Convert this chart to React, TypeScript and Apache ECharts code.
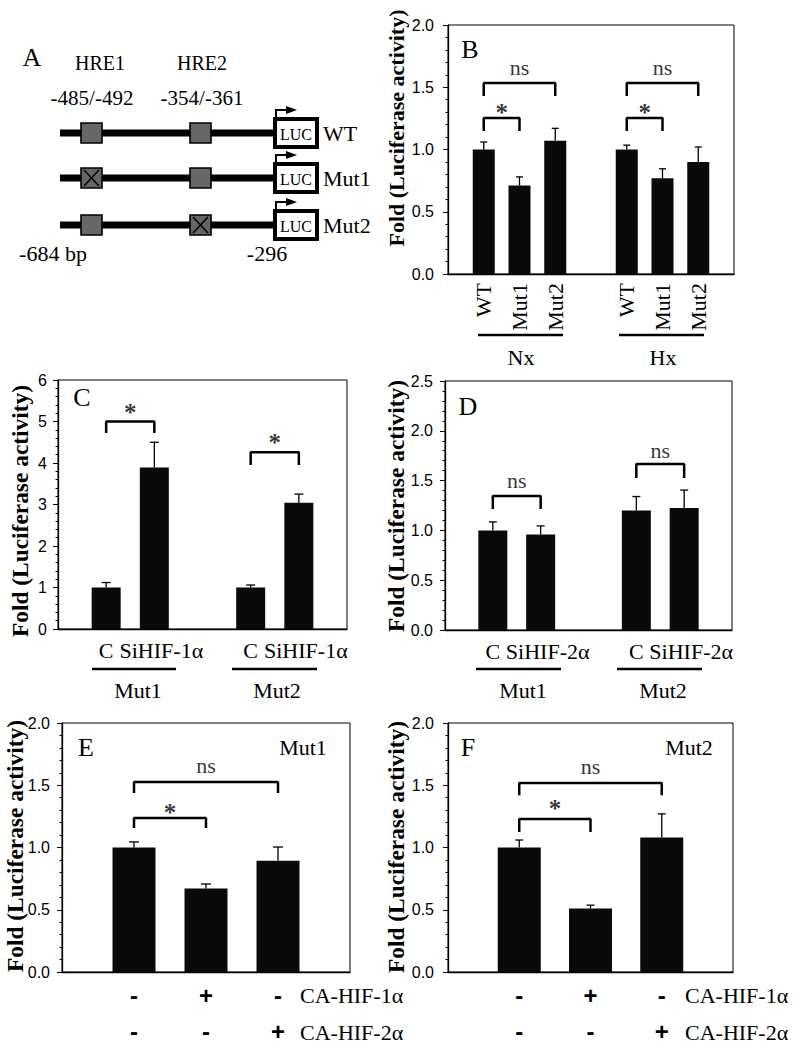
import React, { useEffect, useRef } from "react";
import * as echarts from "echarts";

const SERIF = '"Liberation Serif", "Times New Roman", serif';
const SANS = '"Liberation Sans", Arial, sans-serif';

// ---------- Panel B ----------
const bPositions = [1, 2, 3, 5, 6, 7];
const bLabels = ["WT", "Mut1", "Mut2", "WT", "Mut1", "Mut2"];
const bValues = [1.0, 0.71, 1.07, 1.0, 0.77, 0.9];
const bErrors = [0.06, 0.07, 0.1, 0.035, 0.075, 0.12];
const bGroups = ["Nx", "Hx"];
// [x1, x2, top, leg, text, textY]
const bBrackets: any[] = [
  [1, 3, 1.534, 1.43, "ns", 1.66],
  [1, 2, 1.253, 1.149, "*", 1.3],
  [5, 7, 1.534, 1.43, "ns", 1.66],
  [5, 6, 1.253, 1.149, "*", 1.3],
];

// ---------- Panel C ----------
const cPositions = [1, 2, 4, 5];
const cLabels = ["C", "SiHIF-1α", "C", "SiHIF-1α"];
const cValues = [1.0, 3.89, 1.0, 3.04];
const cErrors = [0.12, 0.61, 0.06, 0.21];
const cGroups = ["Mut1", "Mut2"];
const cBrackets: any[] = [
  [1, 2, 5.0, 4.72, "*", 5.22],
  [4, 5, 4.26, 3.95, "*", 4.5],
];

// ---------- Panel D ----------
const dPositions = [1, 2, 4, 5];
const dLabels = ["C", "SiHIF-2α", "C", "SiHIF-2α"];
const dValues = [1.0, 0.96, 1.2, 1.225];
const dErrors = [0.085, 0.085, 0.14, 0.18];
const dGroups = ["Mut1", "Mut2"];
const dBrackets: any[] = [
  [1, 2, 1.345, 1.215, "ns", 1.5],
  [4, 5, 1.667, 1.526, "ns", 1.807],
];

// ---------- Panels E / F ----------
const efPositions = [1, 2, 3];
const hif1Row = ["-", "+", "-"];
const hif2Row = ["-", "-", "+"];
const rowNames = ["CA-HIF-1α", "CA-HIF-2α"];
const eValues = [1.0, 0.67, 0.894];
const eErrors = [0.045, 0.037, 0.11];
const eBrackets: any[] = [
  [1, 3, 1.526, 1.438, "ns", 1.655],
  [1, 2, 1.237, 1.157, "*", 1.285],
];
const fValues = [1.0, 0.51, 1.08];
const fErrors = [0.06, 0.027, 0.19];
const fBrackets: any[] = [
  [1, 3, 1.518, 1.42, "ns", 1.647],
  [1, 2, 1.229, 1.124, "*", 1.31],
];

const Y_TITLE = "Fold (Luciferase activity)";

function labelAt(positions: number[], labels: string[]) {
  return (v: number) => {
    const k = positions.indexOf(v);
    return k >= 0 ? labels[k] : "";
  };
}

function buildOption() {
  const serifLabel = { fontFamily: SERIF, fontSize: 22, color: "#000" };
  const siLabel = (positions: number[], labels: string[]) => ({
    ...serifLabel,
    margin: 10,
    formatter: (v: number) => {
      const k = positions.indexOf(v);
      if (k < 0) return "";
      return k % 2 === 1 ? `{s|${labels[k]}}` : labels[k];
    },
    rich: { s: { padding: [0, 0, 0, 14], fontFamily: SERIF, fontSize: 22, color: "#000" } },
  });
  const efLabel = {
    fontFamily: SANS,
    fontWeight: "bold",
    fontSize: 24,
    lineHeight: 36,
    color: "#000",
    margin: 5,
    formatter: (v: number) => {
      const k = efPositions.indexOf(v);
      return k >= 0 ? `${hif1Row[k]}\n${hif2Row[k]}` : "";
    },
  };

  const panels = [
    {
      grid: { left: 448, top: 25, width: 286, height: 249 },
      xMax: 8, yMax: 2, yInt: 0.5, pos: bPositions, val: bValues, err: bErrors, br: bBrackets,
      barW: 22, cap: 3.5, yMargin: 14, dec: 1,
      xLabel: { ...serifLabel, rotate: 90, margin: 9, formatter: labelAt(bPositions, bLabels) },
    },
    {
      grid: { left: 58, top: 380, width: 289, height: 249 },
      xMax: 6, yMax: 6, yInt: 1, pos: cPositions, val: cValues, err: cErrors, br: cBrackets,
      barW: 29, cap: 4.5, yMargin: 11, dec: 0,
      xLabel: siLabel(cPositions, cLabels),
    },
    {
      grid: { left: 445, top: 381, width: 287, height: 249 },
      xMax: 6, yMax: 2.5, yInt: 0.5, pos: dPositions, val: dValues, err: dErrors, br: dBrackets,
      barW: 29, cap: 4, yMargin: 12, dec: 1,
      xLabel: siLabel(dPositions, dLabels),
    },
    {
      grid: { left: 62, top: 723, width: 288, height: 249 },
      xMax: 4, yMax: 2, yInt: 0.5, pos: efPositions, val: eValues, err: eErrors, br: eBrackets,
      barW: 43, cap: 5, yMargin: 12, dec: 1,
      xLabel: efLabel,
    },
    {
      grid: { left: 448, top: 723, width: 285, height: 249 },
      xMax: 4, yMax: 2, yInt: 0.5, pos: efPositions, val: fValues, err: fErrors, br: fBrackets,
      barW: 43, cap: 4, yMargin: 14, dec: 1,
      xLabel: efLabel,
    },
  ];

  const grid = panels.map((p) => ({
    ...p.grid,
    show: true,
    borderColor: "#000",
    borderWidth: 1,
    backgroundColor: "transparent",
  }));

  const xAxis = panels.map((p, i) => ({
    type: "value",
    gridIndex: i,
    min: 0,
    max: p.xMax,
    interval: 1,
    splitLine: { show: false },
    axisTick: { show: false },
    axisLine: { show: true, onZero: false, lineStyle: { color: "#000", width: 1.3 } },
    axisLabel: p.xLabel,
  }));

  const yAxis = panels.map((p, i) => ({
    type: "value",
    gridIndex: i,
    min: 0,
    max: p.yMax,
    interval: p.yInt,
    splitLine: { show: false },
    axisLine: { show: true, onZero: false, lineStyle: { color: "#000", width: 1.3 } },
    axisTick: { show: true, length: 5, lineStyle: { color: "#000", width: 1 } },
    minorTick: { show: true, splitNumber: 5, length: 2.5, lineStyle: { color: "#000", width: 1 } },
    axisLabel: {
      fontFamily: SANS,
      fontSize: 16,
      color: "#000",
      margin: p.yMargin,
      formatter: (v: number) => (p.dec ? v.toFixed(1) : String(Math.round(v))),
    },
  }));

  const series: any[] = [];
  panels.forEach((p, i) => {
    series.push({
      type: "bar",
      xAxisIndex: i,
      yAxisIndex: i,
      barWidth: p.barW,
      itemStyle: { color: "#0a0a0a" },
      data: p.pos.map((x, k) => [x, p.val[k]]),
    });
    const cap = p.cap;
    series.push({
      type: "custom",
      xAxisIndex: i,
      yAxisIndex: i,
      clip: false,
      encode: { x: 0, y: 1 },
      data: p.pos.map((x, k) => [x, p.val[k], p.err[k]]),
      renderItem: (params: any, api: any) => {
        const x = api.value(0);
        const y = api.value(1);
        const e = api.value(2);
        const base = api.coord([x, y]);
        const top = api.coord([x, y + e]);
        const st = { stroke: "#000", lineWidth: 1.3 };
        return {
          type: "group",
          children: [
            { type: "line", shape: { x1: base[0], y1: base[1], x2: top[0], y2: top[1] }, style: st },
            { type: "line", shape: { x1: top[0] - cap, y1: top[1], x2: top[0] + cap, y2: top[1] }, style: st },
          ],
        };
      },
    });
    p.br.forEach((b: any[]) => {
      series.push({
        type: "line",
        xAxisIndex: i,
        yAxisIndex: i,
        symbol: "none",
        silent: true,
        lineStyle: { color: "#000", width: 2.5 },
        data: [
          [b[0], b[3]],
          [b[0], b[2]],
          [b[1], b[2]],
          [b[1], b[3]],
        ],
      });
    });
    series.push({
      type: "scatter",
      xAxisIndex: i,
      yAxisIndex: i,
      symbolSize: 1,
      silent: true,
      itemStyle: { color: "rgba(0,0,0,0)" },
      data: p.br.map((b: any[]) => ({
        value: [(b[0] + b[1]) / 2, b[5]],
        name: b[4],
        label: {
          show: true,
          position: "inside",
          formatter: "{b}",
          fontFamily: SERIF,
          fontWeight: b[4] === "*" ? "bold" : "normal",
          fontSize: b[4] === "*" ? 25 : 22,
          color: "#000",
        },
      })),
    });
  });

  // ---------- graphic decorations ----------
  const g: any[] = [];
  const txt = (text: string, x: number, y: number, size: number, align = "center", weight = "normal", family = SERIF, rotation = 0) => ({
    type: "text",
    x,
    y,
    rotation,
    style: {
      text,
      fill: "#000",
      font: `${weight} ${size}px ${family}`,
      textAlign: align,
      textVerticalAlign: "middle",
      align,
      verticalAlign: "middle",
    },
  });

  // Panel A: construct diagram
  g.push(txt("A", 32, 57, 26));
  g.push(txt("HRE1", 100, 63, 20));
  g.push(txt("HRE2", 202, 63, 20));
  g.push(txt("-485/-492", 92, 98, 21));
  g.push(txt("-354/-361", 202, 98, 21));
  g.push(txt("-684 bp", 53, 253, 22));
  g.push(txt("-296", 267, 253, 22));
  const rows = [
    { y: 133, name: "WT", mut: -1 },
    { y: 178, name: "Mut1", mut: 0 },
    { y: 225, name: "Mut2", mut: 1 },
  ];
  const hreX = [81, 190];
  rows.forEach((r) => {
    g.push({ type: "rect", shape: { x: 60, y: r.y - 3.5, width: 214, height: 7 }, style: { fill: "#000" } });
    hreX.forEach((hx, k) => {
      g.push({
        type: "rect",
        shape: { x: hx, y: r.y - 10, width: 21, height: 20 },
        style: { fill: "#666", stroke: "#000", lineWidth: 1.6 },
      });
      if (r.mut === k) {
        g.push({ type: "line", shape: { x1: hx + 3, y1: r.y - 8, x2: hx + 18, y2: r.y + 8 }, style: { stroke: "#000", lineWidth: 1.5 } });
        g.push({ type: "line", shape: { x1: hx + 18, y1: r.y - 8, x2: hx + 3, y2: r.y + 8 }, style: { stroke: "#000", lineWidth: 1.5 } });
      }
    });
    g.push({
      type: "rect",
      shape: { x: 275, y: r.y - 14, width: 42, height: 28 },
      style: { fill: "#fff", stroke: "#000", lineWidth: 4 },
    });
    g.push(txt("LUC", 296, r.y + 1, 16));
    g.push({
      type: "polyline",
      shape: { points: [[276, r.y - 16], [276, r.y - 23], [288, r.y - 23]] },
      style: { stroke: "#000", lineWidth: 2, fill: null },
    });
    g.push({
      type: "polygon",
      shape: { points: [[286, r.y - 27], [297, r.y - 23], [286, r.y - 19]] },
      style: { fill: "#000" },
    });
    g.push(txt(r.name, 323, r.y, 22, "left"));
  });

  // Panel letters and inner labels
  g.push(txt("B", 470, 49, 26));
  g.push(txt("C", 82, 397, 26));
  g.push(txt("D", 468, 406, 26));
  g.push(txt("E", 86, 747, 26));
  g.push(txt("F", 468, 747, 26));
  g.push(txt("Mut1", 303, 747, 22));
  g.push(txt("Mut2", 689, 747, 22));

  // Y axis titles
  g.push(txt(Y_TITLE, 396, 128, 22, "center", "bold", SERIF, Math.PI / 2));
  g.push(txt(Y_TITLE, 20, 511, 23.4, "center", "bold", SERIF, Math.PI / 2));
  g.push(txt(Y_TITLE, 396, 506, 23.4, "center", "bold", SERIF, Math.PI / 2));
  g.push(txt(Y_TITLE, 15, 846, 23.4, "center", "bold", SERIF, Math.PI / 2));
  g.push(txt(Y_TITLE, 396, 847, 23.4, "center", "bold", SERIF, Math.PI / 2));

  // Group separators
  const groupLine = (x1: number, x2: number, y: number) => ({
    type: "line",
    shape: { x1, y1: y, x2, y2: y },
    style: { stroke: "#000", lineWidth: 2.5 },
  });
  g.push(groupLine(478, 563, 335), groupLine(619, 704, 335));
  g.push(txt(bGroups[0], 521, 357, 22), txt(bGroups[1], 663, 357, 22));
  g.push(groupLine(92, 176, 669), groupLine(232, 317, 669));
  g.push(txt(cGroups[0], 138, 690, 22), txt(cGroups[1], 277, 690, 22));
  g.push(groupLine(476, 561, 669), groupLine(617, 702, 669));
  g.push(txt(dGroups[0], 523, 690, 22), txt(dGroups[1], 663, 690, 22));

  // Row names for E / F
  g.push(txt(rowNames[0], 300, 995, 22, "left"), txt(rowNames[1], 300, 1032, 22, "left"));
  g.push(txt(rowNames[0], 685, 995, 22, "left"), txt(rowNames[1], 685, 1032, 22, "left"));

  return {
    animation: false,
    backgroundColor: "#fff",
    grid,
    xAxis,
    yAxis,
    series,
    graphic: { elements: g },
  };
}

export default function App() {
  const ref = useRef<HTMLDivElement>(null);
  useEffect(() => {
    document.body.style.margin = "0";
    const chart = echarts.init(ref.current!, null, { renderer: "svg" });
    chart.setOption(buildOption() as any);
    return () => chart.dispose();
  }, []);
  return <div ref={ref} style={{ width: 805, height: 1050 }} />;
}
